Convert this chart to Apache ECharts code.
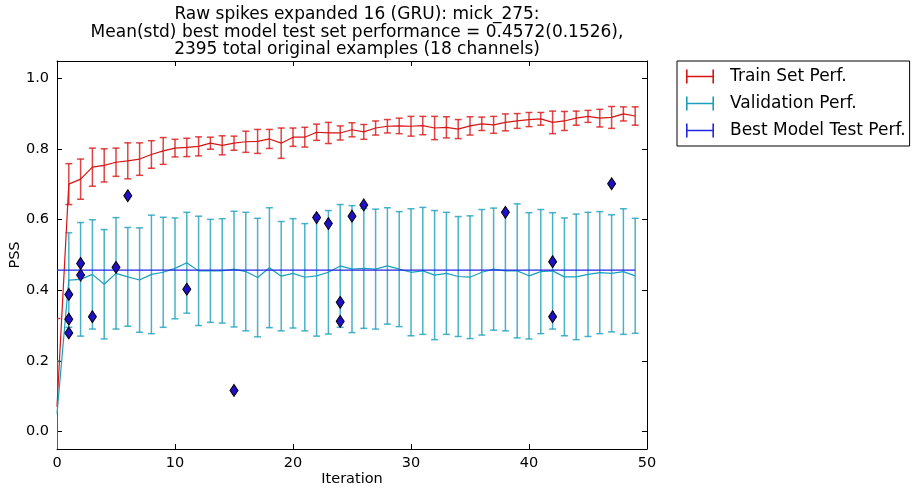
<!DOCTYPE html>
<html>
<head>
<meta charset="utf-8">
<script src="https://cdn.jsdelivr.net/npm/echarts@6/dist/echarts.min.js"></script>
<style>
html,body{margin:0;padding:0;background:#fff;}
#chart{width:912px;height:489px;}
</style>
</head>
<body>
<div id="chart"></div>
<script>
// ---- data ----
var titleLines = [
  "Raw spikes expanded 16 (GRU): mick_275:",
  "Mean(std) best model test set performance = 0.4572(0.1526),",
  "2395 total original examples (18 channels)"
];
var iterations = [];
for (var i = 0; i < 50; i++) iterations.push(i);

var trainMean = [0.07,0.701,0.715,0.749,0.754,0.763,0.767,0.772,0.785,0.795,
  0.803,0.805,0.808,0.817,0.811,0.817,0.821,0.822,0.829,0.817,
  0.834,0.834,0.848,0.846,0.846,0.855,0.849,0.860,0.865,0.866,
  0.865,0.867,0.860,0.862,0.857,0.866,0.872,0.869,0.876,0.880,
  0.884,0.886,0.876,0.880,0.888,0.893,0.888,0.890,0.900,0.894];
var trainStd = [0.25,0.058,0.057,0.054,0.047,0.040,0.051,0.046,0.039,0.038,
  0.025,0.026,0.027,0.017,0.027,0.020,0.030,0.034,0.027,0.043,
  0.026,0.028,0.023,0.030,0.020,0.020,0.021,0.020,0.019,0.022,
  0.028,0.026,0.033,0.030,0.027,0.026,0.019,0.024,0.024,0.021,
  0.020,0.018,0.032,0.027,0.020,0.017,0.025,0.031,0.020,0.026];
var valMean = [0.05,0.429,0.431,0.445,0.417,0.448,0.438,0.429,0.445,0.451,
  0.462,0.478,0.455,0.455,0.455,0.460,0.453,0.436,0.464,0.440,
  0.448,0.437,0.441,0.451,0.469,0.460,0.462,0.460,0.469,0.460,
  0.451,0.455,0.443,0.448,0.439,0.437,0.451,0.460,0.455,0.455,
  0.441,0.453,0.455,0.438,0.438,0.445,0.450,0.448,0.453,0.441];
var valStd = [0.15,0.134,0.161,0.155,0.155,0.158,0.140,0.148,0.168,0.156,
  0.143,0.143,0.155,0.146,0.148,0.164,0.168,0.168,0.170,0.155,
  0.155,0.152,0.171,0.175,0.174,0.180,0.170,0.170,0.165,0.163,
  0.180,0.180,0.183,0.173,0.170,0.174,0.178,0.173,0.170,0.190,
  0.179,0.176,0.165,0.167,0.178,0.176,0.173,0.166,0.178,0.163];
var bestMean = 0.4572;
var testX = [1,1,1,2,2,3,5,6,11,15,22,23,24,24,25,26,38,42,42,47];
var testY = [0.388,0.318,0.279,0.476,0.443,0.325,0.465,0.668,0.403,0.116,
  0.606,0.589,0.366,0.312,0.610,0.642,0.621,0.481,0.325,0.702];
var xTicks = [0,10,20,30,40,50];
var yTicks = [0,0.2,0.4,0.6,0.8,1.0];
var names = ["Train Set Perf.","Validation Perf.","Best Model Test Perf."];

// ---- build ----
var RED = '#d81414', CYAN = '#1c9fbd', BLUE = '#2424e6';
function lineData(m){ return iterations.map(function(x,k){return [x,m[k]];}); }
function barData(m,s){ return iterations.map(function(x,k){return [x,m[k]-s[k],m[k]+s[k]];}); }
function errRender(color){
  return function(params, api){
    var x = api.value(0), lo = api.value(1), hi = api.value(2);
    var p1 = api.coord([x,lo]), p2 = api.coord([x,hi]);
    var w = 3.5;
    var st = {stroke: color, lineWidth: 1.5, opacity: 0.8};
    return {type:'group', children:[
      {type:'line', shape:{x1:p1[0],y1:p1[1],x2:p2[0],y2:p2[1]}, style:st},
      {type:'line', shape:{x1:p1[0]-w,y1:p1[1],x2:p1[0]+w,y2:p1[1]}, style:st},
      {type:'line', shape:{x1:p2[0]-w,y1:p2[1],x2:p2[0]+w,y2:p2[1]}, style:st}
    ]};
  };
}
var icon = 'path://M0,0h1.6v14h-1.6z M0,6.2h28v1.6h-28z M26.4,0h1.6v14h-1.6z';
var FONT = 'DejaVu Sans';
var axisCommon = {
  type:'value', axisLine:{show:true, onZero:false, lineStyle:{color:'#000', width:1}},
  axisTick:{show:true, inside:true, length:5, lineStyle:{color:'#000'}},
  splitLine:{show:false}
};

var chart = echarts.init(document.getElementById('chart'), null, {renderer:'canvas'});
chart.setOption({
  animation:false,
  backgroundColor:'#fff',
  title:{
    text: titleLines.join('\n'), left: 352, top: 1, textAlign:'center',
    textStyle:{fontFamily:FONT, fontSize:17, fontWeight:'normal', color:'#000', lineHeight:17.5}
  },
  legend:{
    orient:'vertical', left:677, top:61, padding:[7,4,7,9], itemGap:10,
    itemWidth:28, itemHeight:14, borderColor:'#000', borderWidth:1,
    textStyle:{fontFamily:FONT, fontSize:17, color:'#000', padding:[0,0,0,11]},
    data:[
      {name:names[0], icon:icon, itemStyle:{color:RED}},
      {name:names[1], icon:icon, itemStyle:{color:CYAN}},
      {name:names[2], icon:icon, itemStyle:{color:BLUE}}
    ]
  },
  grid:{left:57, right:265, top:61, bottom:40, containLabel:false, outerBoundsMode:'none'},
  xAxis:[
    Object.assign({}, axisCommon, {position:'bottom', min:0, max:50, interval:10,
      name:'Iteration', nameLocation:'middle', nameGap:23, nameMoveOverlap:false,
      nameTextStyle:{fontFamily:FONT, fontSize:14.5, color:'#000'},
      axisLabel:{fontFamily:FONT, fontSize:14.5, color:'#000', margin:7,
        customValues:xTicks}}),
    Object.assign({}, axisCommon, {position:'top', min:0, max:50, interval:10,
      axisLabel:{show:false}})
  ],
  yAxis:[
    Object.assign({}, axisCommon, {position:'left', min:-0.05, max:1.05,
      name:'PSS', nameLocation:'middle', nameGap:34, nameMoveOverlap:false,
      nameTextStyle:{fontFamily:FONT, fontSize:14.5, color:'#000'},
      axisTick:{show:true, inside:true, length:5, lineStyle:{color:'#000'}, customValues:yTicks},
      axisLabel:{fontFamily:FONT, fontSize:14.5, color:'#000', margin:8,
        customValues:yTicks, formatter:function(v){return v.toFixed(1);}}}),
    Object.assign({}, axisCommon, {position:'right', min:-0.05, max:1.05,
      axisTick:{show:true, inside:true, length:5, lineStyle:{color:'#000'}, customValues:yTicks},
      axisLabel:{show:false, customValues:yTicks}})
  ],
  series:[
    {name:names[0], type:'custom', renderItem:errRender(RED), data:barData(trainMean,trainStd), clip:true, z:2},
    {name:names[0], type:'line', data:lineData(trainMean), showSymbol:false, lineStyle:{color:RED, width:1.2}, itemStyle:{color:RED}, z:3},
    {name:names[1], type:'custom', renderItem:errRender(CYAN), data:barData(valMean,valStd), clip:true, z:2},
    {name:names[1], type:'line', data:lineData(valMean), showSymbol:false, lineStyle:{color:CYAN, width:1.2}, itemStyle:{color:CYAN}, z:3},
    {name:names[2], type:'line', data:iterations.map(function(x){return [x,bestMean];}), showSymbol:false, lineStyle:{color:BLUE, width:1.4}, itemStyle:{color:BLUE}, z:4},
    {name:names[2], type:'scatter', data:testX.map(function(x,k){return [x,testY[k]];}), symbol:'diamond', symbolSize:[8,12],
      itemStyle:{color:'#1f10c8', borderColor:'#000', borderWidth:1, opacity:1}, z:5}
  ]
});
</script>
</body>
</html>
